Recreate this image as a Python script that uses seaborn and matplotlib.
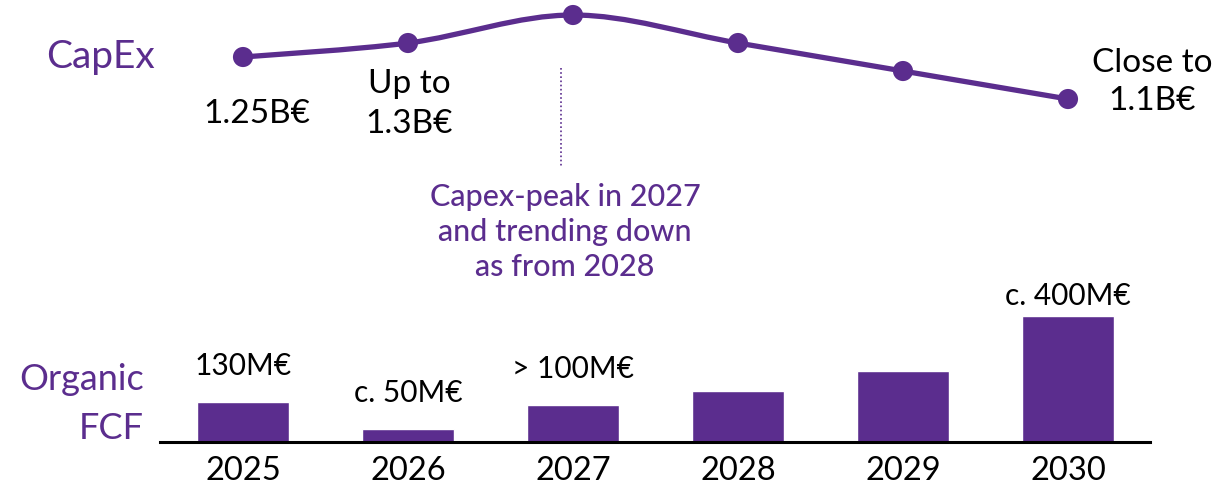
import matplotlib
matplotlib.use("Agg")
import matplotlib.pyplot as plt
from matplotlib.path import Path
from matplotlib.patches import PathPatch
from matplotlib.lines import Line2D
import numpy as np
import seaborn as sns

# ------------------------------------------------------------
# data
# ------------------------------------------------------------
years       = ["2025", "2026", "2027", "2028", "2029", "2030"]
capex_bn    = [1.25, 1.30, 1.40, 1.30, 1.20, 1.10]          # B€
fcf_mn      = [130, 42, 120, 166, 231, 410]                 # M€
fcf_labels  = ["130M€", "c. 50M€", "> 100M€", "", "", "c. 400M€"]
peak_note   = ["Capex-peak in 2027", "and trending down", "as from 2028"]

PURPLE = "#5B2D8E"
BLACK  = "#000000"

sns.set_style("white")
plt.rcParams["font.family"] = ["Lato", "DejaVu Sans"]

W, H = 1215, 487
fig = plt.figure(figsize=(W / 100, H / 100), dpi=100)


def fx(x):
    return x / W


def fy(y):
    return 1 - y / H


XLIM = (-0.503, 5.497)

# ── CapEx line (top) ─────────────────────────
ax_line = fig.add_axes([fx(160), fy(290), 990 / W, 290 / H])
xs = np.arange(len(years))
ys = np.array(capex_bn)

# smooth curve through the points (Catmull-Rom -> cubic Bezier)
pts = np.column_stack([xs, ys])
ext = np.vstack([pts[0], pts, pts[-1]])
verts = [tuple(pts[0])]
codes = [Path.MOVETO]
for i in range(len(pts) - 1):
    p0, p1, p2, p3 = ext[i], ext[i + 1], ext[i + 2], ext[i + 3]
    c1 = p1 + (p2 - p0) / 6
    c2 = p2 - (p3 - p1) / 6
    verts += [tuple(c1), tuple(c2), tuple(p2)]
    codes += [Path.CURVE4] * 3
ax_line.add_patch(PathPatch(Path(verts, codes), facecolor="none",
                            edgecolor=PURPLE, linewidth=3.8,
                            capstyle="round", clip_on=False))
sns.scatterplot(x=xs, y=ys, s=210, color=PURPLE, edgecolor="none",
                ax=ax_line, zorder=3, clip_on=False)
ax_line.set_xlim(*XLIM)
ax_line.set_ylim(0.418, 1.4536)
ax_line.axis("off")

# ── Organic FCF bars (bottom) ────────────────
ax_bar = fig.add_axes([fx(160), fy(442), 990 / W, 142 / H])
sns.barplot(x=years, y=fcf_mn, color=PURPLE, saturation=1, width=0.56,
            ax=ax_bar)
ax_bar.set_xlim(*XLIM)
ax_bar.set_ylim(0, 461.5)
for side in ["top", "left", "right"]:
    ax_bar.spines[side].set_visible(False)
ax_bar.spines["bottom"].set_linewidth(2.2)
ax_bar.spines["bottom"].set_color(BLACK)
ax_bar.set_yticks([])
ax_bar.set_xlabel("")
ax_bar.set_ylabel("")
ax_bar.tick_params(axis="x", length=0, pad=10, labelsize=23.5, labelcolor=BLACK)

for i, (val, lab) in enumerate(zip(fcf_mn, fcf_labels)):
    if not lab:
        continue
    off = 8 if i == len(years) - 1 else 19.5
    ax_bar.annotate(lab, (i, val), xytext=(0, off), textcoords="offset points",
                    ha="center", va="baseline", fontsize=21.5, color=BLACK)

# ── text labels ──────────────────────────────
fig.text(fx(46), fy(68), "CapEx", fontsize=28, fontweight="normal",
         color=PURPLE, ha="left", va="baseline")
fig.text(fx(144), fy(390), "Organic", fontsize=26, fontweight="normal",
         color=PURPLE, ha="right", va="baseline")
fig.text(fx(144), fy(439), "FCF", fontsize=26, fontweight="normal",
         color=PURPLE, ha="right", va="baseline")

fig.text(fx(257), fy(123), "1.25B€", fontsize=24, color=BLACK,
         ha="center", va="baseline")
fig.text(fx(409), fy(93), "Up to", fontsize=24, color=BLACK,
         ha="center", va="baseline")
fig.text(fx(409), fy(133), "1.3B€", fontsize=24, color=BLACK,
         ha="center", va="baseline")
fig.text(fx(1152), fy(72), "Close to", fontsize=24, color=BLACK,
         ha="center", va="baseline")
fig.text(fx(1152), fy(110), "1.1B€", fontsize=24, color=BLACK,
         ha="center", va="baseline")

# peak note with dotted leader
fig.add_artist(Line2D([fx(561), fx(561)], [fy(68), fy(167)],
                      color=PURPLE, linewidth=1.2, linestyle=(0, (1, 1.5))))
for k, line in enumerate(peak_note):
    fig.text(fx(565), fy(206 + 35 * k), line, fontsize=22,
             fontweight="medium", color=PURPLE, ha="center", va="baseline")

plt.savefig("out.png", dpi=100)
plt.close()
